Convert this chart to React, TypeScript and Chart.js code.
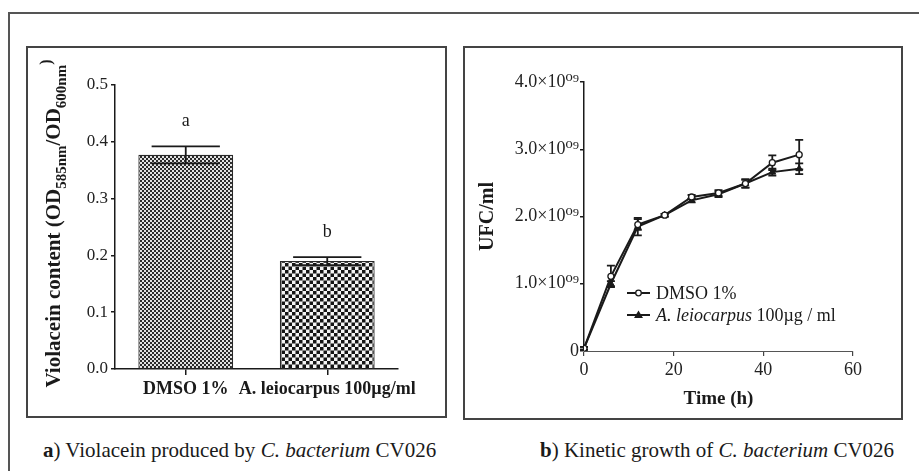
import { useEffect, useRef } from "react";
import { Chart, registerables } from "chart.js";

Chart.register(...registerables);

const SERIF = "'Liberation Serif', 'Times New Roman', 'DejaVu Serif', serif";
const INK = "#1a1a1a";

// Panel a: violacein content per treatment
const treatments = ["DMSO 1%", "A. leiocarpus 100µg/ml"];
const violacein = [0.377, 0.19];
const violaceinErr = [0.015, 0.007];
const groupLetters = ["a", "b"];

// Panel b: growth kinetics, UFC/ml in units of 10^9
const hours = [0, 6, 12, 18, 24, 30, 36, 42, 48];
const dmsoUfc = [0.04, 1.11, 1.88, 2.02, 2.29, 2.35, 2.49, 2.8, 2.92];
const dmsoErr = [0.02, 0.16, 0.08, 0.02, 0.03, 0.04, 0.06, 0.11, 0.22];
const extractUfc = [0.04, 1.0, 1.85, 2.02, 2.24, 2.33, 2.49, 2.66, 2.71];
const extractErr = [0.02, 0.04, 0.13, 0.02, 0.03, 0.04, 0.06, 0.05, 0.08];
const legendParts = [
  [{ text: "DMSO 1%", italic: false }],
  [
    { text: "A. leiocarpus", italic: true },
    { text: " 100µg / ml", italic: false },
  ],
];

function checker(cell: number, dark: string, light: string) {
  const c = document.createElement("canvas");
  c.width = cell * 2;
  c.height = cell * 2;
  const g = c.getContext("2d")!;
  g.fillStyle = light;
  g.fillRect(0, 0, cell * 2, cell * 2);
  g.fillStyle = dark;
  g.fillRect(0, 0, cell, cell);
  g.fillRect(cell, cell, cell, cell);
  return g.createPattern(c, "repeat")!;
}

// error bars and significance letters over the bars
const barMarks = {
  id: "barMarks",
  afterDatasetsDraw(chart: any) {
    const { ctx } = chart;
    const y = chart.scales.y;
    const meta = chart.getDatasetMeta(0);
    ctx.save();
    ctx.strokeStyle = INK;
    ctx.lineWidth = 1.8;
    ctx.fillStyle = INK;
    ctx.font = `18px ${SERIF}`;
    ctx.textAlign = "center";
    ctx.textBaseline = "alphabetic";
    meta.data.forEach((bar: any, i: number) => {
      const cx = bar.x;
      const top = y.getPixelForValue(violacein[i] + violaceinErr[i]);
      const bot = y.getPixelForValue(violacein[i] - violaceinErr[i]);
      const half = bar.width * 0.36;
      ctx.beginPath();
      ctx.moveTo(cx, top);
      ctx.lineTo(cx, bot);
      ctx.moveTo(cx - half, top);
      ctx.lineTo(cx + half, top);
      ctx.moveTo(cx - half, bot);
      ctx.lineTo(cx + half, bot);
      ctx.stroke();
      ctx.fillText(groupLetters[i], cx, top - 20);
    });
    ctx.restore();
  },
};

// rotated y title with subscripts
const violaceinTitle = {
  id: "violaceinTitle",
  afterDraw(chart: any) {
    const { ctx } = chart;
    const segs = [
      { text: "Violacein content (OD", size: 21, dy: 0 },
      { text: "585nm", size: 15, dy: 6 },
      { text: "/OD", size: 21, dy: 0 },
      { text: "600nm", size: 15, dy: 6 },
      { text: ")", size: 16, dy: -9 },
    ];
    ctx.save();
    let total = 0;
    const widths = segs.map((s) => {
      ctx.font = `bold ${s.size}px ${SERIF}`;
      const w = ctx.measureText(s.text).width;
      total += w;
      return w;
    });
    const cy = (chart.chartArea.top + chart.chartArea.bottom) / 2 - 3.5;
    ctx.translate(34, cy);
    ctx.rotate(-Math.PI / 2);
    ctx.fillStyle = INK;
    ctx.textAlign = "left";
    ctx.textBaseline = "alphabetic";
    let u = -total / 2;
    segs.forEach((s, i) => {
      ctx.font = `bold ${s.size}px ${SERIF}`;
      ctx.fillText(s.text, u, s.dy);
      u += widths[i];
    });
    ctx.restore();
  },
};

const growthErrors = {
  id: "growthErrors",
  beforeDatasetsDraw(chart: any) {
    const { ctx } = chart;
    const { x, y } = chart.scales;
    const sets = [
      { v: dmsoUfc, e: dmsoErr },
      { v: extractUfc, e: extractErr },
    ];
    ctx.save();
    ctx.strokeStyle = INK;
    ctx.lineWidth = 1.8;
    sets.forEach((s) => {
      s.v.forEach((v, j) => {
        const px = x.getPixelForValue(hours[j]);
        const top = y.getPixelForValue(v + s.e[j]);
        const bot = y.getPixelForValue(v - s.e[j]);
        ctx.beginPath();
        ctx.moveTo(px, top);
        ctx.lineTo(px, bot);
        ctx.moveTo(px - 4, top);
        ctx.lineTo(px + 4, top);
        ctx.moveTo(px - 4, bot);
        ctx.lineTo(px + 4, bot);
        ctx.stroke();
      });
    });
    ctx.restore();
  },
};

const growthLegend = {
  id: "growthLegend",
  afterDraw(chart: any) {
    const { ctx } = chart;
    const x0 = 164;
    const x1 = 187;
    const rows = [247, 269];
    ctx.save();
    rows.forEach((ry, i) => {
      ctx.strokeStyle = INK;
      ctx.lineWidth = 2;
      ctx.beginPath();
      ctx.moveTo(x0, ry);
      ctx.lineTo(x1, ry);
      ctx.stroke();
      const mx = (x0 + x1) / 2;
      if (i === 0) {
        ctx.fillStyle = "#fff";
        ctx.lineWidth = 1.3;
        ctx.beginPath();
        ctx.arc(mx, ry, 2.8, 0, Math.PI * 2);
        ctx.fill();
        ctx.stroke();
      } else {
        ctx.fillStyle = INK;
        ctx.beginPath();
        ctx.moveTo(mx, ry - 4.5);
        ctx.lineTo(mx + 4.5, ry + 3);
        ctx.lineTo(mx - 4.5, ry + 3);
        ctx.closePath();
        ctx.fill();
      }
      let tx = x1 + 6;
      ctx.fillStyle = INK;
      ctx.textAlign = "left";
      ctx.textBaseline = "middle";
      legendParts[i].forEach((p) => {
        ctx.font = `${p.italic ? "italic " : ""}18px ${SERIF}`;
        ctx.fillText(p.text, tx, ry + 1);
        tx += ctx.measureText(p.text).width;
      });
    });
    ctx.restore();
  },
};

export default function App() {
  const refA = useRef<HTMLCanvasElement>(null);
  const refB = useRef<HTMLCanvasElement>(null);

  useEffect(() => {
    const patFine = checker(2, "#2b2b2b", "#e2e2e2");
    const patCoarse = checker(3.5, "#151515", "#f4f4f4");

    const chartA = new Chart(refA.current!, {
      type: "bar",
      data: {
        labels: treatments,
        datasets: [
          {
            data: violacein,
            backgroundColor: [patFine, patCoarse] as any,
            borderColor: "#2a2a2a",
            borderWidth: 1.2,
            categoryPercentage: 1,
            barPercentage: 0.67,
          },
        ],
      },
      options: {
        responsive: false,
        animation: false,
        events: [],
        layout: { padding: { left: 0, top: 39, right: 49, bottom: 0 } },
        plugins: { legend: { display: false }, tooltip: { enabled: false } },
        scales: {
          x: {
            grid: {
              display: true,
              drawOnChartArea: false,
              offset: false,
              tickLength: 6,
              color: INK,
              lineWidth: 1.5,
            },
            border: { color: INK, width: 1.5 },
            ticks: {
              color: INK,
              font: { family: SERIF, size: 18, weight: "bold" },
              padding: 4,
              maxRotation: 0,
              autoSkip: false,
            },
            afterFit: (s: any) => {
              s.height = 49;
            },
          },
          y: {
            min: 0,
            max: 0.5,
            ticks: {
              stepSize: 0.1,
              callback: (v: any) => Number(v).toFixed(1),
              color: "#222",
              font: { family: SERIF, size: 17 },
              padding: 3,
            },
            grid: { drawOnChartArea: false, tickLength: 4, color: INK, lineWidth: 1.5 },
            border: { color: INK, width: 1.5 },
            afterFit: (s: any) => {
              s.width = 89;
            },
          },
        },
      } as any,
      plugins: [barMarks, violaceinTitle],
    });

    const chartB = new Chart(refB.current!, {
      type: "line",
      data: {
        datasets: [
          {
            data: dmsoUfc.map((v, i) => ({ x: hours[i], y: v })),
            borderColor: INK,
            borderWidth: 2,
            pointStyle: "circle",
            pointRadius: 3,
            pointBorderWidth: 1.3,
            pointBackgroundColor: "#fff",
            pointBorderColor: INK,
          },
          {
            data: extractUfc.map((v, i) => ({ x: hours[i], y: v })),
            borderColor: INK,
            borderWidth: 2,
            pointStyle: "triangle",
            pointRadius: 3.8,
            pointBorderWidth: 1,
            pointBackgroundColor: INK,
            pointBorderColor: INK,
          },
        ],
      },
      options: {
        responsive: false,
        animation: false,
        events: [],
        layout: { padding: { left: 0, top: 36, right: 50, bottom: 0 } },
        plugins: { legend: { display: false }, tooltip: { enabled: false } },
        scales: {
          x: {
            type: "linear",
            min: 0,
            max: 60,
            ticks: {
              stepSize: 20,
              color: "#222",
              font: { family: SERIF, size: 18 },
              padding: 3,
            },
            grid: { drawOnChartArea: false, tickLength: 5, color: "#444", lineWidth: 1.2 },
            border: { color: "#555", width: 1 },
            title: {
              display: true,
              text: "Time (h)",
              color: INK,
              font: { family: SERIF, size: 19, weight: "bold" },
              padding: { top: 0, bottom: 10 },
            },
            afterFit: (s: any) => {
              s.height = 69;
            },
          },
          y: {
            type: "linear",
            min: 0,
            max: 4,
            ticks: {
              stepSize: 1,
              callback: (v: any) => (Number(v) === 0 ? "0" : `${Number(v).toFixed(1)}×10⁰⁹`),
              color: "#222",
              font: { family: SERIF, size: 18 },
              padding: 1,
            },
            grid: { drawOnChartArea: false, tickLength: 4, color: INK, lineWidth: 1.5 },
            border: { color: INK, width: 1.5 },
            title: {
              display: true,
              text: "UFC/ml",
              color: INK,
              font: { family: SERIF, size: 20, weight: "bold" },
              padding: { top: 13, bottom: 0 },
            },
            afterFit: (s: any) => {
              s.width = 121;
            },
          },
        },
      } as any,
      plugins: [growthErrors, growthLegend],
    });

    return () => {
      chartA.destroy();
      chartB.destroy();
    };
  }, []);

  const box = (left: number, top: number, w: number, h: number): React.CSSProperties => ({
    position: "absolute",
    left,
    top,
    width: w,
    height: h,
    boxSizing: "border-box",
    border: "2px solid #444",
  });

  const caption: React.CSSProperties = {
    position: "absolute",
    top: 438,
    fontFamily: SERIF,
    fontSize: 21,
    lineHeight: "24px",
    color: INK,
    whiteSpace: "nowrap",
  };

  return (
    <div
      style={{
        position: "fixed",
        left: 0,
        top: 0,
        width: 919,
        height: 471,
        background: "#fff",
        overflow: "hidden",
      }}
    >
      <div
        style={{
          position: "absolute",
          left: 8,
          top: 12,
          width: 1200,
          height: 800,
          border: "2px solid #555",
        }}
      />
      <div style={box(26, 46, 421, 372)} />
      <canvas
        ref={refA}
        width={421}
        height={372}
        style={{ position: "absolute", left: 26, top: 46 }}
      />
      <div style={box(463, 46, 440, 374)} />
      <canvas
        ref={refB}
        width={440}
        height={374}
        style={{ position: "absolute", left: 463, top: 46 }}
      />
      <div style={{ ...caption, left: 43 }}>
        <b>a</b>) Violacein produced by <i>C. bacterium</i> CV026
      </div>
      <div style={{ ...caption, left: 540 }}>
        <b>b</b>) Kinetic growth of <i>C. bacterium</i> CV026
      </div>
    </div>
  );
}
